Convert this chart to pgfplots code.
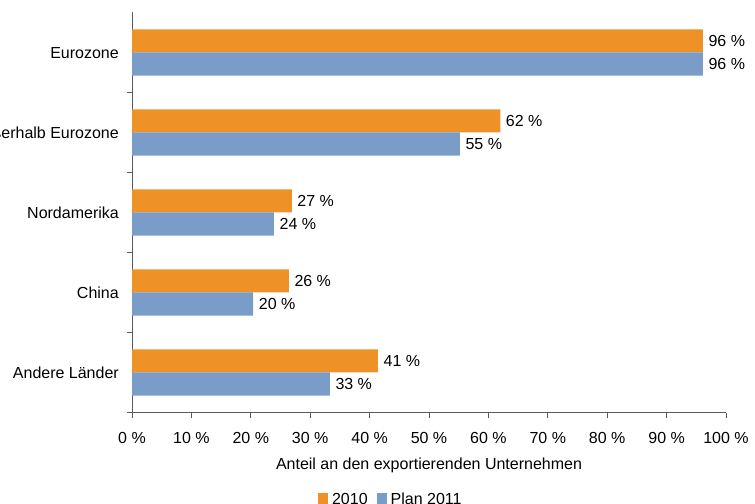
\documentclass[border=0pt]{standalone}
\usepackage{pgfplots}
\pgfplotsset{compat=1.18}
\usepackage{fontspec}
\setmainfont{Liberation Sans}
\definecolor{c2010}{HTML}{EE9228}
\definecolor{c2011}{HTML}{7A9CC8}
\definecolor{axgray}{HTML}{5A5A5A}
\newcommand{\ff}{\fontsize{16bp}{19bp}\selectfont}
\begin{document}
\ff
\begin{tikzpicture}[font=\ff]
\path[use as bounding box] (0,0) rectangle (755bp,504bp);
\begin{axis}[
  at={(132bp,91.5bp)}, anchor=south west,
  scale only axis, width=594bp, height=400bp,
  xbar, bar width=0.29,
  xmin=0, xmax=100, ymin=-0.5, ymax=4.5,
  axis x line*=bottom, axis y line*=left,
  axis line style={axgray, line width=0.8bp, -},
  xtick={0,10,...,100},
  xticklabel={\pgfmathprintnumber[assume math mode=true]{\tick}~\%},
  ytick={0,1,2,3,4},
  yticklabels={Andere Länder,China,Nordamerika,Außerhalb Eurozone,Eurozone},
  minor ytick={-0.5,0.5,1.5,2.5,3.5},
  tick align=outside, major tick length=5bp, minor tick length=5bp,
  tick style={axgray, line width=0.8bp},
  major y tick style={draw=none},
  xticklabel style={anchor=north, inner sep=0pt, text height=11.5bp, text depth=0pt, yshift=-14.75bp, font=\ff},
  yticklabel style={anchor=east, inner sep=0pt, text height=11.5bp, text depth=0pt, xshift=-8bp, font=\ff},
  xlabel={Anteil an den exportierenden Unternehmen},
  xlabel style={at={(axis description cs:0.5,0)}, anchor=base, yshift=-56.5bp, inner sep=0pt, font=\ff},
  legend columns=2,
  legend style={at={(axis description cs:0.434,-0.215)}, anchor=center, draw=none, fill=none, inner sep=0pt,
    font=\ff,
    nodes={inner sep=0pt, text height=11.5bp, text depth=0pt},
    /tikz/every odd column/.append style={column sep=4bp},
    /tikz/every even column/.append style={column sep=9bp}},
  legend image code/.code={\fill[#1] (0bp,-5.25bp) rectangle (10bp,5.25bp);},
  point meta=x,
  nodes near coords={\pgfmathprintnumber[fixed,precision=0,assume math mode=true]{\pgfplotspointmeta}~\%},
  nodes near coords style={anchor=west, inner sep=0pt, xshift=5.5bp, text height=11.5bp, text depth=0pt, font=\ff, black},
]
\addplot[bar shift=0.145, fill=c2010, draw=none] coordinates {
  (41.4,0) (26.4,1) (26.9,2) (62,3) (96.1,4)
};
\addlegendentry{2010}
\addplot[bar shift=-0.145, fill=c2011, draw=none] coordinates {
  (33.3,0) (20.4,1) (23.9,2) (55.2,3) (96.1,4)
};
\addlegendentry{Plan 2011}
\end{axis}
\end{tikzpicture}
\end{document}
